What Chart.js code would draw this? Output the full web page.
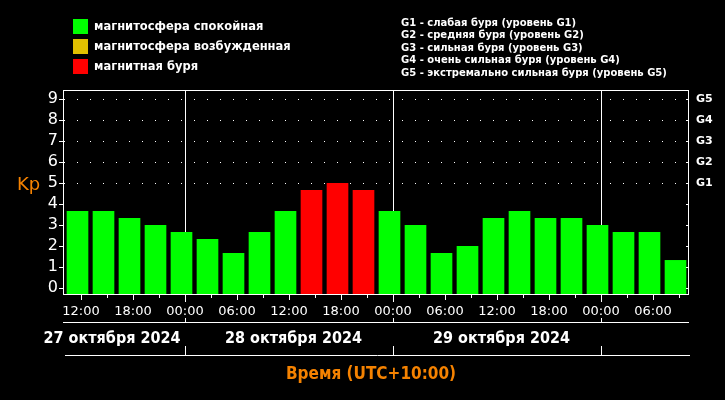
<!DOCTYPE html>
<html><head><meta charset="utf-8">
<script src="https://cdn.jsdelivr.net/npm/chart.js@4"></script>
<style>html,body{margin:0;padding:0;background:#000;overflow:hidden}#c{display:block}</style>
</head><body>
<canvas id="c" width="725" height="400"></canvas>
<script>
// ---- data ----
const kpValues = [3.67,3.67,3.33,3.0,2.67,2.33,1.67,2.67,3.67,4.67,5.0,4.67,3.67,3.0,1.67,2.0,3.33,3.67,3.33,3.33,3.0,2.67,2.67,1.33];
const timeLabels = ['12:00','','18:00','','00:00','','06:00','','12:00','','18:00','','00:00','','06:00','','12:00','','18:00','','00:00','','06:00',''];
const dayLabels = ['27 октября 2024','28 октября 2024','29 октября 2024'];
const kpTicks = [0,1,2,3,4,5,6,7,8,9];
const gLabels = ['G1','G2','G3','G4','G5'];
const legendLabels = ['магнитосфера спокойная','магнитосфера возбужденная','магнитная буря'];
const stormLabels = [
  'G1 - слабая буря (уровень G1)',
  'G2 - средняя буря (уровень G2)',
  'G3 - сильная буря (уровень G3)',
  'G4 - очень сильная буря (уровень G4)',
  'G5 - экстремально сильная буря (уровень G5)'
];
const yTitle = 'Kp';
const xTitle = 'Время (UTC+10:00)';

// ---- styles ----
const quietColor = '#00ff00', activeColor = '#e0c000', stormColor = '#ff0000';
const legendColors = [quietColor, activeColor, stormColor];
const orange = '#f58200';
const yMin = -0.319, yMax = 9.443;
const xMin = -0.5577, xMax = 23.5192;
const tickShift = 0.135;
const isDay = i => i % 8 === 4;

const barColors = kpValues.map(v => v >= 4.6 ? stormColor : (v >= 4 ? activeColor : quietColor));

const decor = {
  id: 'decor',
  beforeDraw(chart) {
    const c = chart.ctx;
    c.save(); c.fillStyle = '#000'; c.fillRect(0, 0, chart.width, chart.height); c.restore();
  },
  afterDraw(chart) {
    const c = chart.ctx, a = chart.chartArea, xs = chart.scales.x, ys = chart.scales.y;
    c.save();
    c.strokeStyle = '#fff'; c.lineWidth = 1;
    // plot frame
    c.strokeRect(Math.round(a.left) + 0.5, Math.round(a.top) + 0.5, Math.round(a.right - a.left) - 1, Math.round(a.bottom - a.top) - 1);
    const B = Math.round(a.bottom);
    // minor x ticks
    c.beginPath();
    timeLabels.forEach((t, i) => {
      if (isDay(i)) return;
      const x = Math.round(xs.getPixelForValue(i + tickShift)) + 0.5;
      const len = t ? 5 : 3;
      c.moveTo(x, B); c.lineTo(x, B + len);
    });
    // right inner ticks
    kpTicks.forEach(v => {
      const y = Math.round(ys.getPixelForValue(v)) + 0.5;
      c.moveTo(a.right - 3, y); c.lineTo(a.right, y);
    });
    // bottom lines
    const L = Math.round(a.left), R = Math.round(a.right);
    c.moveTo(L, 322.5); c.lineTo(R, 322.5);
    c.moveTo(L + 2, 355.5); c.lineTo(R + 1, 355.5);
    const dayX = [];
    timeLabels.forEach((t, i) => { if (isDay(i)) dayX.push(Math.round(xs.getPixelForValue(i + tickShift)) + 0.5); });
    dayX.forEach(x => { c.moveTo(x, 318); c.lineTo(x, 322); c.moveTo(x, 346); c.lineTo(x, 355); });
    c.stroke();
    // date labels
    c.fillStyle = '#fff';
    c.font = 'bold 16px "DejaVu Sans Condensed", "DejaVu Sans"';
    c.textBaseline = 'middle';
    dayLabels.forEach((d, k) => {
      if (k === 0) { c.textAlign = 'right'; c.fillText(d, dayX[0] - 5, 339); }
      else { c.textAlign = 'center'; c.fillText(d, (dayX[k - 1] + dayX[k]) / 2 + 4, 339); }
    });
    // x title
    c.fillStyle = orange;
    c.font = 'bold 17px "DejaVu Sans Condensed", "DejaVu Sans"';
    c.textAlign = 'center';
    c.fillText(xTitle, 371, 375);
    // y title
    c.font = '18px "DejaVu Sans"';
    c.textAlign = 'left'; c.textBaseline = 'alphabetic';
    c.fillText(yTitle, 17, 190);
    // legend
    c.textBaseline = 'middle';
    c.font = 'bold 11.5px "DejaVu Sans"';
    legendLabels.forEach((t, k) => {
      const y = 19 + 20 * k;
      c.fillStyle = legendColors[k]; c.fillRect(73, y, 15, 15);
      c.fillStyle = '#fff'; c.fillText(t, 94, y + 8);
    });
    c.font = 'bold 10px "DejaVu Sans"';
    stormLabels.forEach((t, k) => { c.fillText(t, 401, 23 + 12.5 * k); });
    c.restore();
  }
};

new Chart(document.getElementById('c'), {
  type: 'bar',
  data: {
    datasets: [{
      data: kpValues.map((v, i) => ({ x: i, y: v })),
      backgroundColor: barColors,
      borderWidth: 0,
      base: yMin,
      barThickness: 21,
      xAxisID: 'x', yAxisID: 'y'
    }]
  },
  options: {
    responsive: false, animation: false, devicePixelRatio: 1,
    layout: { padding: { top: 90, left: 0, right: 0, bottom: 0 } },
    plugins: { legend: { display: false }, tooltip: { enabled: false } },
    scales: {
      x: {
        type: 'linear', min: xMin, max: xMax, bounds: 'data', offset: false,
        afterBuildTicks: s => { s.ticks = timeLabels.map((t, i) => ({ value: i + tickShift })); },
        afterFit: s => { s.height = 105; },
        ticks: { color: '#fff', font: { family: 'DejaVu Sans', size: 13 }, padding: 2, maxRotation: 0, autoSkip: false,
                 callback: (v, i) => timeLabels[i] },
        grid: { offset: false, color: c => isDay(c.index) ? '#fff' : 'rgba(0,0,0,0)', tickColor: c => isDay(c.index) ? '#fff' : 'rgba(0,0,0,0)',
                tickLength: 7, lineWidth: 1 },
        border: { display: false }
      },
      y: {
        position: 'left', min: yMin, max: yMax, bounds: 'data',
        afterBuildTicks: s => { s.ticks = kpTicks.map(v => ({ value: v })); },
        afterFit: s => { s.width = 63; },
        ticks: { color: '#fff', font: { family: 'DejaVu Sans', size: 16 }, padding: 1, callback: v => String(v) },
        grid: { color: c => (c.tick && c.tick.value >= 5) ? '#fff' : 'rgba(0,0,0,0)', tickColor: '#fff', tickLength: 4, lineWidth: 1 },
        border: { display: false, dash: [1, 12], dashOffset: 12 }
      },
      y2: {
        position: 'right', min: yMin, max: yMax, bounds: 'data',
        afterBuildTicks: s => { s.ticks = kpTicks.map(v => ({ value: v })); },
        afterFit: s => { s.width = 36; },
        ticks: { color: '#fff', font: { family: 'DejaVu Sans', size: 11, weight: 'bold' }, padding: 7,
                 callback: v => (v >= 5 ? gLabels[v - 5] : '') },
        grid: { display: false, drawTicks: false },
        border: { display: false }
      }
    }
  },
  plugins: [decor]
});
</script>
</body></html>
